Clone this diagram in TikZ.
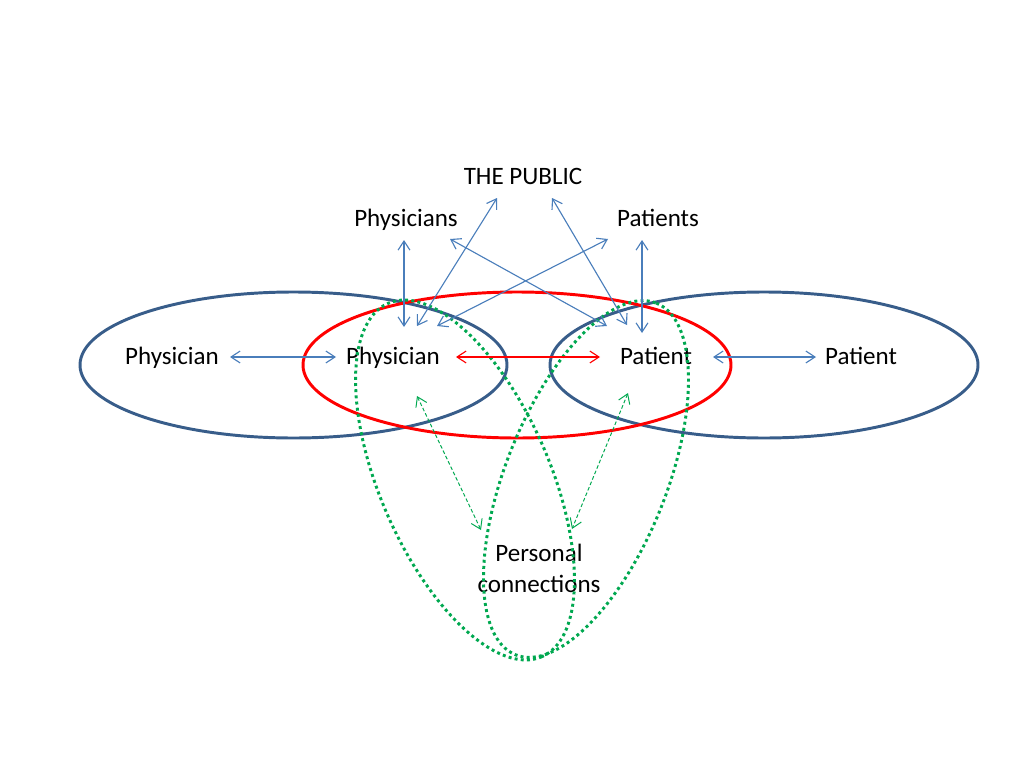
\documentclass[tikz,border=0pt]{standalone}
\usepackage{fontspec}
\setmainfont{Carlito}
\usepackage{xcolor}
\usetikzlibrary{arrows.meta, calc}

\definecolor{ovalblue}{RGB}{56,93,138}
\definecolor{linkblue}{RGB}{74,126,187}
\definecolor{dotgreen}{RGB}{0,168,80}

\begin{document}
\begin{tikzpicture}[
    x=0.025cm, y=-0.025cm,
    txt/.style={inner sep=0pt, anchor=base, font=\fontsize{17.8}{22}\selectfont},
    oval/.style={line width=2.1pt},
    dots/.style={dotgreen, line width=2.1pt, dash pattern=on 2.1pt off 2.3pt},
    link/.style={linkblue, line width=0.8pt, {Straight Barb[length=6.5pt, width=8.5pt]}-{Straight Barb[length=6.5pt, width=8.5pt]}},
    redlink/.style={link, red},
    greenlink/.style={link, dotgreen, line width=0.7pt, dash pattern=on 2.6pt off 1.6pt}
]
    \useasboundingbox (0,0) rectangle (1024,768);

    % Labels
    \node[txt] (pub) at (523,185) {THE PUBLIC};
    \node[txt] (physs) at (406,226) {Physicians};
    \node[txt] (pats) at (658,226) {Patients};
    \node[txt] (physl) at (172,364) {Physician};
    \node[txt] (physm) at (393,364) {Physician};
    \node[txt] (patm) at (656,364) {Patient};
    \node[txt] (patr) at (861,364) {Patient};
    \node[txt, anchor=center, align=center] (pers) at (539,568) {Personal\\connections};

    % Ovals
    \draw[oval, ovalblue] (293.5,365) ellipse (213.5 and 73);
    \draw[oval, ovalblue] (764,365) ellipse (214 and 73);
    \draw[oval, red] (517,365) ellipse (214 and 73);

    % Personal connection loops
    \draw[dots, rotate around={-66.5:(465,480)}] (465,480) ellipse (192.7 and 85);
    \draw[dots, rotate around={68.2:(586,479)}] (586,479) ellipse (189.4 and 80.3);

    % Side links
    \draw[link] ([shift={(58,-7)}]physl.base) -- ([shift={(-57,-7)}]physm.base);
    \draw[link] ([shift={(57,-7)}]patm.base) -- ([shift={(-45,-7)}]patr.base);
    \draw[redlink] ([shift={(63,-7)}]physm.base) -- ([shift={(-56,-7)}]patm.base);

    % Links to the public
    \draw[link] ([shift={(-2,14)}]physs.base) -- ([shift={(11,-37)}]physm.base);
    \draw[link] ([shift={(-16,14)}]pats.base) -- ([shift={(-14,-31)}]patm.base);
    \draw[link] ([shift={(-26,13)}]pub.base) -- ([shift={(24,-38)}]physm.base);
    \draw[link] ([shift={(29,13)}]pub.base) -- ([shift={(-29,-39)}]patm.base);
    \draw[link] ([shift={(44,13)}]physs.base) -- ([shift={(-49,-38)}]patm.base);
    \draw[link] ([shift={(-50,13)}]pats.base) -- ([shift={(44,-38)}]physm.base);

    % Personal links
    \draw[greenlink] ([shift={(24,32)}]physm.base) -- ([shift={(-58,-38)}]pers.center);
    \draw[greenlink] ([shift={(-28,29)}]patm.base) -- ([shift={(33,-39)}]pers.center);

\end{tikzpicture}
\end{document}
